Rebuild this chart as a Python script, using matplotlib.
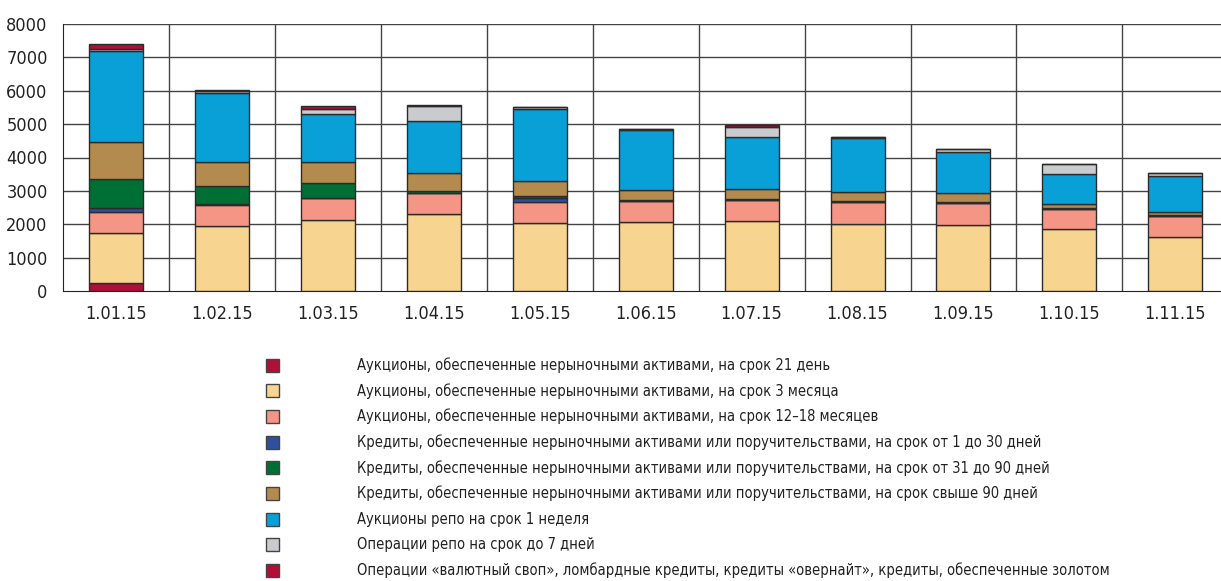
import matplotlib
matplotlib.use("Agg")
import matplotlib.pyplot as plt
from matplotlib.patches import Rectangle
import numpy as np

plt.rcParams['font.family'] = ['DejaVu Sans']
plt.rcParams['font.stretch'] = 'condensed'

dates = ["1.01.15", "1.02.15", "1.03.15", "1.04.15", "1.05.15", "1.06.15",
         "1.07.15", "1.08.15", "1.09.15", "1.10.15", "1.11.15"]

auct_21d   = [230, 0, 0, 0, 0, 0, 0, 0, 0, 0, 0]
auct_3m    = [1520, 1938, 2137, 2307, 2027, 2057, 2097, 2007, 1978, 1858, 1627]
auct_12_18 = [625, 640, 640, 620, 630, 630, 630, 660, 650, 610, 620]
cred_1_30  = [100, 20, 10, 0, 120, 0, 0, 0, 0, 0, 0]
cred_31_90 = [870, 550, 450, 70, 70, 40, 30, 30, 30, 30, 30]
cred_90p   = [1110, 730, 640, 530, 450, 300, 290, 280, 280, 110, 90]
repo_1w    = [2726, 2067, 1420, 1570, 2150, 1800, 1576, 1600, 1220, 900, 1080]
repo_7d    = [70, 50, 150, 440, 60, 40, 290, 50, 110, 300, 100]
swap_other = [150, 30, 90, 30, 0, 0, 50, 0, 0, 0, 0]

series = [auct_21d, auct_3m, auct_12_18, cred_1_30, cred_31_90, cred_90p,
          repo_1w, repo_7d, swap_other]
labels = [
    "Аукционы, обеспеченные нерыночными активами, на срок 21 день",
    "Аукционы, обеспеченные нерыночными активами, на срок 3 месяца",
    "Аукционы, обеспеченные нерыночными активами, на срок 12–18 месяцев",
    "Кредиты, обеспеченные нерыночными активами или поручительствами, на срок от 1 до 30 дней",
    "Кредиты, обеспеченные нерыночными активами или поручительствами, на срок от 31 до 90 дней",
    "Кредиты, обеспеченные нерыночными активами или поручительствами, на срок свыше 90 дней",
    "Аукционы репо на срок 1 неделя",
    "Операции репо на срок до 7 дней",
    "Операции «валютный своп», ломбардные кредиты, кредиты «овернайт», кредиты, обеспеченные золотом",
]
colors = ["#B10E38", "#F7D48F", "#F59586", "#2E4F9E", "#006F36", "#B38B4F",
          "#09A0D8", "#C9CBCE", "#B10E38"]

fig = plt.figure(figsize=(12.21, 5.81), dpi=100)
ax = fig.add_axes([63/1221, 290/581, 1 - 63/1221 + 0.006, 267/581])

x = np.arange(len(dates))
bottom = np.zeros(len(dates))
for vals, c in zip(series, colors):
    v = np.array(vals, dtype=float)
    ax.bar(x, v, bottom=bottom, width=0.51, color=c, edgecolor="#2b2b2b",
           linewidth=1.0, zorder=3)
    bottom += v

ax.set_ylim(0, 8000)
ax.set_xlim(-0.5, len(dates) - 0.5)
ax.set_yticks(np.arange(0, 8001, 1000))
ax.set_xticks(x)
ax.set_xticklabels(dates)
for yv in np.arange(1000, 8001, 1000):
    ax.axhline(yv, color="#444444", linewidth=1.0, zorder=1)
for xv in np.arange(0.5, len(dates) - 0.5, 1):
    ax.axvline(xv, color="#444444", linewidth=1.0, zorder=1)
for s in ["top", "right"]:
    ax.spines[s].set_visible(False)
ax.spines["left"].set_color("#222222")
ax.spines["bottom"].set_color("#222222")
ax.tick_params(axis="both", length=0, labelsize=13, colors="#222222")
ax.tick_params(axis="x", pad=10)
ax.tick_params(axis="y", pad=11)

# legend
y0 = 365
dy = 25.7
for i, (lab, c) in enumerate(zip(labels, colors)):
    yp = y0 + i * dy
    fig.add_artist(Rectangle((266/1221, 1 - (yp + 6.5)/581), 13/1221, 13/581,
                             transform=fig.transFigure, facecolor=c,
                             edgecolor="#444444", linewidth=1.0))
    fig.text(357/1221, 1 - yp/581, lab, fontsize=10.55, va="center",
             ha="left", color="#222222")

fig.savefig("out.png", dpi=100)
